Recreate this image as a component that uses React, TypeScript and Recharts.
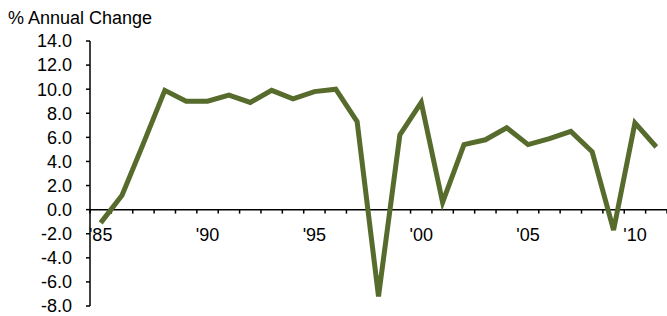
import { LineChart, Line, XAxis, YAxis, ReferenceLine, ReferenceDot } from "recharts"

const years = [
  1985, 1986, 1987, 1988, 1989, 1990, 1991, 1992, 1993, 1994, 1995, 1996, 1997, 1998,
  1999, 2000, 2001, 2002, 2003, 2004, 2005, 2006, 2007, 2008, 2009, 2010, 2011,
]
const growth = [
  -1.1, 1.2, 5.5, 9.9, 9.0, 9.0, 9.5, 8.9, 9.9, 9.2, 9.8, 10.0, 7.3, -7.2,
  6.2, 8.9, 0.6, 5.4, 5.8, 6.8, 5.4, 5.9, 6.5, 4.8, -1.7, 7.2, 5.2,
]
const yTicks = [-8, -6, -4, -2, 0, 2, 4, 6, 8, 10, 12, 14]
const labelYears = [1985, 1990, 1995, 2000, 2005, 2010]
const labelText = ["'85", "'90", "'95", "'00", "'05", "'10"]

const data = years.map((year, i) => ({ year, value: growth[i] }))
// category boundaries, where the small tick marks sit
const bounds = [...years.map((y) => y - 0.5), years[years.length - 1] + 0.5]

const FONT = "'Liberation Sans', Arial, sans-serif"
const GREEN = "#566b2c"

export default function App() {
  return (
    <div style={{ position: "absolute", left: 0, top: 0, width: 667, height: 316, fontFamily: FONT }}>
      <div style={{ position: "absolute", left: 8, top: 9, fontSize: 18, lineHeight: "18px", color: "#000" }}>
        % Annual Change
      </div>
      <LineChart width={667} height={316} data={data} margin={{ top: 41, right: 0, bottom: 10, left: 0 }}>
        <XAxis dataKey="year" type="number" domain={[1984.5, 2011.5]} hide />
        <YAxis
          domain={[-8, 14]}
          ticks={yTicks}
          interval={0}
          width={90}
          tickFormatter={(v: number) => v.toFixed(1)}
          tick={{ fill: "#000", fontSize: 18, fontFamily: FONT }}
          axisLine={{ stroke: "#000", strokeWidth: 1.5 }}
          tickLine={{ stroke: "#000", strokeWidth: 1.5 }}
          tickSize={4}
          tickMargin={14}
        />
        <ReferenceLine y={0} stroke="#000" strokeWidth={1.5} />
        {bounds.map((b) => (
          <ReferenceLine
            key={b}
            segment={[{ x: b, y: 0 }, { x: b, y: -0.33 }]}
            stroke="#000"
            strokeWidth={1.5}
          />
        ))}
        {labelYears.map((yr, i) => (
          <ReferenceDot
            key={yr}
            x={yr}
            y={0}
            r={0}
            shape={(p: any) => (
              <text x={p.cx} y={p.cy + 31} textAnchor="middle" fontSize={18} fontFamily={FONT} fill="#000">
                {labelText[i]}
              </text>
            )}
          />
        ))}
        <Line
          type="linear"
          dataKey="value"
          stroke={GREEN}
          strokeWidth={5}
          dot={false}
          isAnimationActive={false}
        />
      </LineChart>
    </div>
  )
}
